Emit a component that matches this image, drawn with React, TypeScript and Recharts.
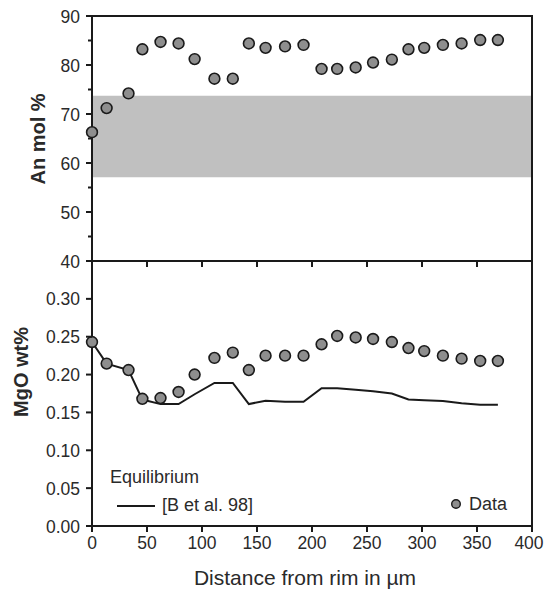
import {
  ComposedChart,
  Legend,
  Line,
  ReferenceArea,
  Scatter,
  XAxis,
  YAxis,
} from "recharts";

// distance from rim (µm) of each analysis spot
const distance = [
  0, 13.3, 33.2, 45.8, 62.3, 78.7, 93.3, 111.3, 128, 142.6, 157.8, 175.5,
  192.3, 208.7, 222.9, 239.7, 255.5, 272.6, 287.7, 302, 319, 336, 352.9, 369,
];
const anMol = [
  66.3, 71.2, 74.2, 83.2, 84.7, 84.4, 81.2, 77.2, 77.2, 84.4, 83.5, 83.8, 84.1,
  79.2, 79.2, 79.5, 80.5, 81.1, 83.2, 83.5, 84.1, 84.4, 85.1, 85.1,
];
const mgoData = [
  0.243, 0.2145, 0.206, 0.168, 0.169, 0.177, 0.2, 0.222, 0.229, 0.206, 0.225,
  0.225, 0.225, 0.24, 0.251, 0.249, 0.247, 0.243, 0.235, 0.231, 0.225, 0.221,
  0.218, 0.218,
];
const mgoEquilibrium = [
  0.243, 0.2145, 0.206, 0.167, 0.161, 0.161, 0.174, 0.189, 0.189, 0.161,
  0.1655, 0.164, 0.164, 0.182, 0.182, 0.18, 0.178, 0.175, 0.167, 0.166, 0.165,
  0.162, 0.16, 0.16,
];
// equilibrium An range (grey band)
const anBand = [57.1, 73.7];

const xTicks = [0, 50, 100, 150, 200, 250, 300, 350, 400];
const anTicks = [40, 45, 50, 55, 60, 65, 70, 75, 80, 85, 90];
const mgoTicks = [0, 0.05, 0.1, 0.15, 0.2, 0.25, 0.3];

const rows = distance.map((x, i) => ({
  x,
  an: anMol[i],
  mgo: mgoData[i],
  eq: mgoEquilibrium[i],
}));

const INK = "#1a1a1a";
const TEXT = "#2a2a2a";
const FONT = "'Liberation Sans', Arial, sans-serif";
const AXIS_X = 92;
const TICK_FONT = 17.5;
const axisLine = { stroke: INK, strokeWidth: 2 };

function Dot(props: any) {
  const { cx, cy } = props;
  if (cx == null || cy == null) return null;
  return (
    <circle cx={cx} cy={cy} fill="#8e8e8e" r={5.4} stroke={INK} strokeWidth={1.6} />
  );
}

function AnTick(props: any) {
  const { y, payload } = props;
  const major = payload.value % 10 === 0;
  return (
    <g>
      <line stroke={INK} strokeWidth={2} x1={AXIS_X - (major ? 6 : 4)} x2={AXIS_X} y1={y} y2={y} />
      {major && (
        <text fill={TEXT} fontFamily={FONT} fontSize={TICK_FONT} textAnchor="end" x={AXIS_X - 12} y={y + 6.5}>
          {payload.value}
        </text>
      )}
    </g>
  );
}

function MgoTick(props: any) {
  const { y, payload } = props;
  return (
    <g>
      <line stroke={INK} strokeWidth={2} x1={AXIS_X - 6} x2={AXIS_X} y1={y} y2={y} />
      <text fill={TEXT} fontFamily={FONT} fontSize={TICK_FONT} textAnchor="end" x={AXIS_X - 12} y={y + 6.5}>
        {payload.value.toFixed(2)}
      </text>
    </g>
  );
}

function DistTick(props: any) {
  const { x, y, payload } = props;
  // last label sits against the page edge in the reference
  const shift = payload.value === 400 ? -3 : 0;
  return (
    <text fill={TEXT} fontFamily={FONT} fontSize={TICK_FONT} textAnchor="middle" x={x + shift} y={y + 15}>
      {payload.value}
    </text>
  );
}

function LegendBox() {
  return (
    <svg height={331} style={{ display: "block" }} width={545}>
      <text fill={TEXT} fontFamily={FONT} fontSize={18} x={110} y={222}>
        Equilibrium
      </text>
      <line stroke={INK} strokeWidth={2} x1={117} x2={155} y1={245} y2={245} />
      <text fill={TEXT} fontFamily={FONT} fontSize={18} x={162} y={250}>
        [B et al. 98]
      </text>
      <circle cx={456} cy={243} fill="#8e8e8e" r={4.3} stroke={INK} strokeWidth={1.4} />
      <text fill={TEXT} fontFamily={FONT} fontSize={18} x={469} y={249}>
        Data
      </text>
    </svg>
  );
}

// outline of a whole panel, drawn from the panel's own domain
const frameProps = {
  fill: "transparent",
  fillOpacity: 0,
  stroke: INK,
  strokeWidth: 2,
  strokeOpacity: 1,
  ifOverflow: "extendDomain" as const,
};

export default function App() {
  return (
    <div
      style={{
        position: "absolute",
        left: 0,
        top: 0,
        width: 545,
        height: 592,
        background: "#fff",
        fontFamily: FONT,
      }}
    >
      {/* An mol % panel */}
      <div style={{ position: "absolute", left: 0, top: 0 }}>
        <ComposedChart
          data={rows}
          height={272}
          margin={{ top: 16, right: 13, bottom: 0, left: 0 }}
          width={545}
        >
          <XAxis
            axisLine={axisLine}
            dataKey="x"
            domain={[0, 400]}
            height={11}
            interval={0}
            tickFormatter={() => ""}
            tickLine={axisLine}
            tickSize={6}
            ticks={xTicks}
            type="number"
          />
          <YAxis
            axisLine={axisLine}
            domain={[40, 90]}
            interval={0}
            label={() => (
              <text
                fill={TEXT}
                fontFamily={FONT}
                fontSize={20}
                fontWeight="bold"
                textAnchor="middle"
                transform="translate(45,139) rotate(-90)"
              >
                An mol %
              </text>
            )}
            tick={<AnTick />}
            tickLine={false}
            ticks={anTicks}
            type="number"
            width={AXIS_X}
          />
          <ReferenceArea
            fill="#c0c0c0"
            fillOpacity={1}
            stroke="none"
            x1={0}
            x2={400}
            y1={anBand[0]}
            y2={anBand[1]}
          />
          <ReferenceArea {...frameProps} x1={0} x2={400} y1={40} y2={90} />
          <Scatter dataKey="an" isAnimationActive={false} shape={<Dot />} />
        </ComposedChart>
      </div>

      {/* MgO wt% panel */}
      <div style={{ position: "absolute", left: 0, top: 261 }}>
        <ComposedChart
          data={rows}
          height={331}
          margin={{ top: 0, right: 13, bottom: 0, left: 0 }}
          width={545}
        >
          <XAxis
            axisLine={axisLine}
            dataKey="x"
            domain={[0, 400]}
            height={66}
            interval={0}
            label={() => (
              <text
                fill={TEXT}
                fontFamily={FONT}
                fontSize={21}
                textAnchor="middle"
                x={305}
                y={324}
              >
                Distance from rim in µm
              </text>
            )}
            tick={<DistTick />}
            tickLine={axisLine}
            tickSize={6}
            ticks={xTicks}
            type="number"
          />
          <YAxis
            axisLine={axisLine}
            domain={[0, 0.35]}
            interval={0}
            label={() => (
              <text
                fill={TEXT}
                fontFamily={FONT}
                fontSize={20}
                fontWeight="bold"
                textAnchor="middle"
                transform="translate(28,111) rotate(-90)"
              >
                MgO wt%
              </text>
            )}
            tick={<MgoTick />}
            tickLine={false}
            ticks={mgoTicks}
            type="number"
            width={AXIS_X}
          />
          <ReferenceArea {...frameProps} x1={0} x2={400} y1={0} y2={0.35} />
          <Line
            dataKey="eq"
            dot={false}
            isAnimationActive={false}
            stroke={INK}
            strokeWidth={2}
            type="linear"
          />
          <Scatter dataKey="mgo" isAnimationActive={false} shape={<Dot />} />
          <Legend
            align="center"
            content={() => <LegendBox />}
            layout="horizontal"
            verticalAlign="middle"
            wrapperStyle={{ left: 0, top: 0, width: 545, height: 331, pointerEvents: "none" }}
          />
        </ComposedChart>
      </div>
    </div>
  );
}
